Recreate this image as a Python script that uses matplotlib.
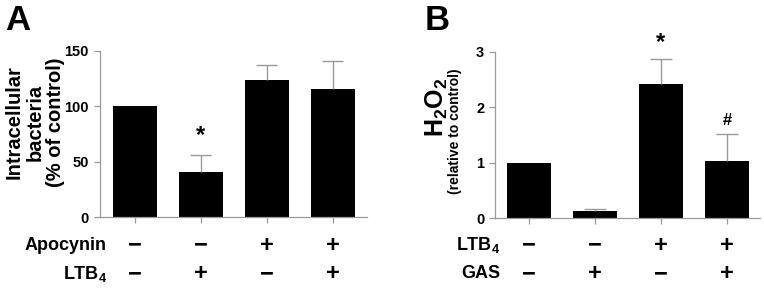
import numpy as np
import matplotlib
matplotlib.use('Agg')
import matplotlib.pyplot as plt
import matplotlib.transforms as mtrans

plt.rcParams['font.family'] = ['Liberation Sans Narrow', 'Liberation Sans', 'DejaVu Sans']
plt.rcParams['font.weight'] = 'bold'
plt.rcParams['mathtext.fontset'] = 'custom'
plt.rcParams['mathtext.bf'] = 'Liberation Sans:bold'
plt.rcParams['mathtext.rm'] = 'Liberation Sans:bold'
plt.rcParams['mathtext.default'] = 'bf'

# panel A data
valsA = [100, 41, 123.6, 115.5]
errA = [0, 14.8, 13.2, 24.9]
apocynin = ['−', '−', '+', '+']
ltbA = ['−', '+', '−', '+']

# panel B data
valsB = [1.0, 0.13, 2.42, 1.03]
errB = [0, 0.03, 0.44, 0.48]
ltbB = ['−', '−', '+', '+']
gas = ['−', '+', '−', '+']

W, H = 764, 294
fig = plt.figure(figsize=(W/100, H/100), dpi=100)

grey = '#9a9a9a'
x = np.arange(4)

def style(ax, ymax, step, vals, err):
    ax.bar(x, vals, width=0.67, color='black')
    vals = np.array(vals)
    err = np.array(err)
    m = err > 0
    top = vals + err
    # upper error bars only
    ax.vlines(x[m], vals[m], top[m], color=grey, lw=1)
    ax.hlines(top[m], x[m] - 0.16, x[m] + 0.16, color=grey, lw=1)
    for s in ['top', 'right']:
        ax.spines[s].set_visible(False)
    for s in ['left', 'bottom']:
        ax.spines[s].set_color(grey)
        ax.spines[s].set_linewidth(0.9)
    ax.set_ylim(0, ymax)
    ax.set_yticks(np.arange(0, ymax + step/2, step))
    ax.set_xticks(x)
    ax.set_xticklabels([])
    ax.tick_params(axis='both', color=grey, length=4, width=0.9)
    ax.tick_params(axis='y', labelsize=10.5, pad=4)

def rows(ax, rowlist, names, labelx):
    trans = mtrans.blended_transform_factory(ax.transData, fig.transFigure)
    for (signs, yy), name in zip(rowlist, names):
        for i, s in enumerate(signs):
            ax.text(i, yy, s, transform=trans, ha='center', va='center',
                    fontsize=17, fontweight='bold', clip_on=False)
        fig.text(labelx, yy, name, ha='right', va='center', fontsize=13,
                 fontweight='bold')

# panel A
axA = fig.add_axes([100/W, 1 - 217.3/H, 267/W, 166.6/H])
axA.set_xlim(-0.53, 3.52)
style(axA, 150, 50, valsA, errA)
axA.text(1, 63, '*', ha='center', va='bottom', fontsize=17, fontweight='bold')
rows(axA, [(apocynin, 1 - 245/H), (ltbA, 1 - 274/H)],
     ['Apocynin', 'LTB$_4$'], 107/W)
fig.text(5/W, 1 - 20/H, 'A', fontsize=25, fontweight='bold', va='center', ha='left')
fig.text(35/W, 1 - 122/H, 'Intracellular\nbacteria\n(% of control)', rotation=90,
         ha='center', va='center', fontsize=14.5, fontweight='bold',
         linespacing=1.12, multialignment='center')

# panel B
axB = fig.add_axes([495.3/W, 1 - 218.3/H, 264.7/W, 166.6/H])
axB.set_xlim(-0.51, 3.5)
style(axB, 3, 1, valsB, errB)
axB.text(2, 2.96, '*', ha='center', va='bottom', fontsize=17, fontweight='bold')
axB.text(3, 1.62, '#', ha='center', va='bottom', fontsize=12, fontweight='bold')
rows(axB, [(ltbB, 1 - 245/H), (gas, 1 - 274/H)],
     ['LTB$_4$', 'GAS'], 500/W)
fig.text(425/W, 1 - 20/H, 'B', fontsize=25, fontweight='bold', va='center', ha='left')
fig.text(437/W, 1 - 107/H, 'H$_2$O$_2$', rotation=90, ha='center', va='center',
         fontsize=18, fontweight='bold')
fig.text(455/W, 1 - 131/H, '(relative to control)', rotation=90, ha='center',
         va='center', fontsize=10, fontweight='bold')

fig.savefig('out.png', dpi=100)
